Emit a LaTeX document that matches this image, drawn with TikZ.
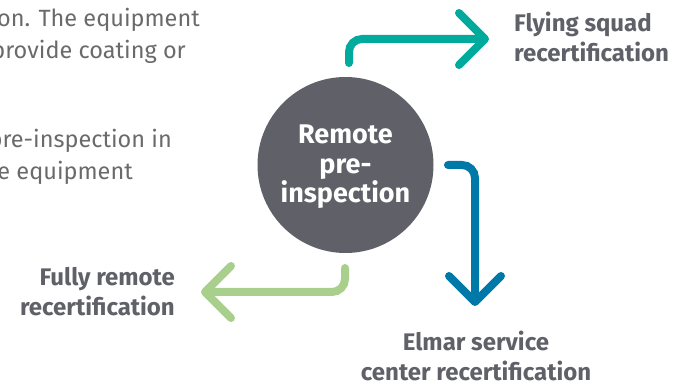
\documentclass[tikz,border=0pt]{standalone}
\usepackage{fontspec}
\setmainfont{Fira Sans}
\usetikzlibrary{arrows.meta}
\definecolor{dgray}{HTML}{5F6068}
\definecolor{pgray}{HTML}{6A6A6A}
\definecolor{teal}{HTML}{00AB9E}
\definecolor{blue}{HTML}{0078A8}
\definecolor{green}{HTML}{A8D08C}
\tikzset{
  conn/.style={line width=8pt, line cap=round, rounded corners=13pt,
    -{Straight Barb[round, length=26pt, width=52pt]}},
  lbl/.style={font=\fontsize{24}{30}\selectfont\bfseries, text=dgray, inner sep=0pt},
  para/.style={font=\fontsize{23.5}{32}\selectfont, text=pgray, inner sep=0pt, anchor=base east},
}
\begin{document}
\begin{tikzpicture}[x=1pt,y=1pt]
\useasboundingbox (0,0) rectangle (677,385);
% paragraph fragments
\node[para] (p1) at (200,358) {on. The equipment};
\node[para] (p2) at (186,326) {provide coating or};
\node[para] (p3) at (172,237) {pre-inspection in};
\node[para] (p4) at (133,205) {e equipment};
% circle
\node[circle, fill=dgray, minimum size=176pt, inner sep=0pt] (c) at (345.5,220) {};
\node[align=center, inner sep=0pt, text=white,
  font=\fontsize{27}{29.5}\selectfont\bfseries] (ct) at ([yshift=-2pt]c.center)
  {Remote\\pre-\\inspection};
% labels
\node[lbl, anchor=west, align=left] (fs) at (514,348) {Flying squad\\recertification};
\node[lbl, anchor=center, align=center] (es) at (476,29) {Elmar service\\center recertification};
\node[lbl, anchor=east, align=right] (fr) at (175,93) {Fully remote\\recertification};
% connector coordinates
\coordinate (t0) at (349,322);
\coordinate (t1) at (489,346);
\coordinate (b0) at (448,220);
\coordinate (b1) at (475,79);
\coordinate (g0) at (345,117);
\coordinate (g1) at (201,93);
\draw[conn, teal] (t0) |- (t1);
\draw[conn, blue] (b0) -| (b1);
\draw[conn, green] (g0) |- (g1);
\end{tikzpicture}
\end{document}
